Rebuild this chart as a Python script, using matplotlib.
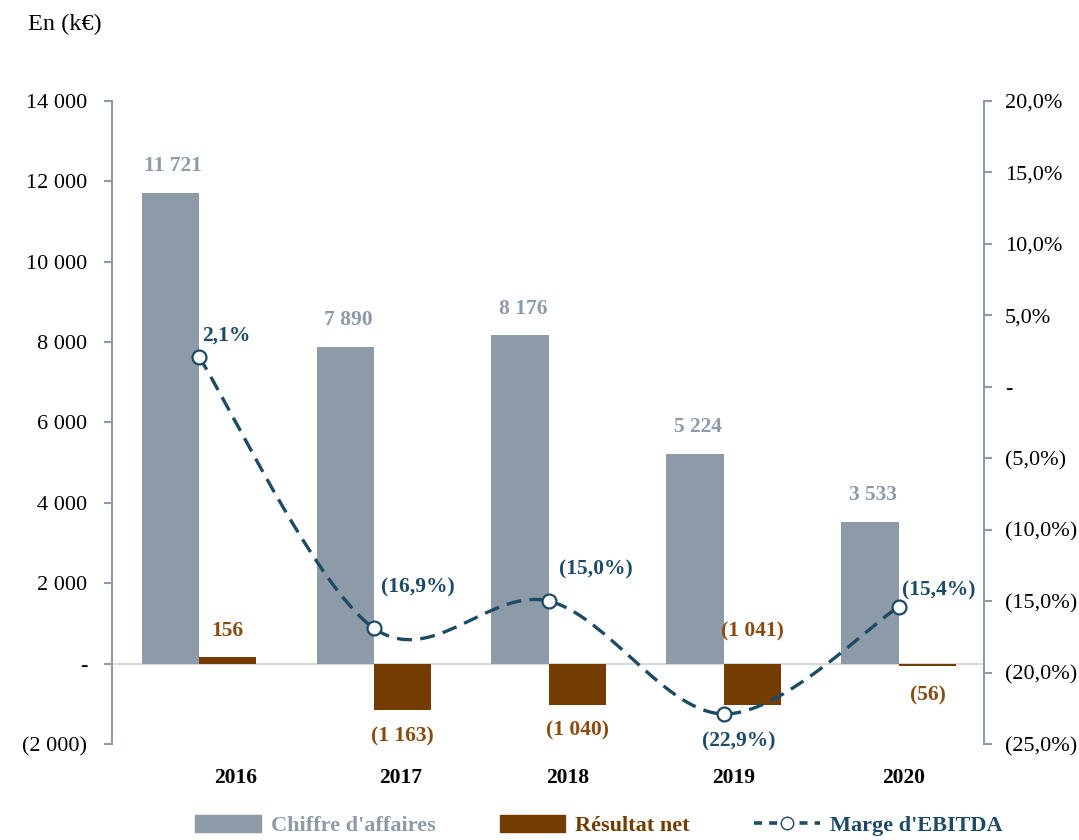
import numpy as np
import matplotlib
matplotlib.use("Agg")
import matplotlib.pyplot as plt
from matplotlib.patches import Patch
from matplotlib.lines import Line2D
from matplotlib.ticker import FuncFormatter

plt.rcParams['font.family'] = ['Liberation Serif', 'DejaVu Serif']

annees = ['2016', '2017', '2018', '2019', '2020']
chiffre_affaires = [11721, 7890, 8176, 5224, 3533]
resultat_net = [156, -1163, -1040, -1041, -56]
marge_ebitda = [2.1, -16.9, -15.0, -22.9, -15.4]

GRIS = '#8d9ba8'
BRUN = '#743c00'
BRUN_TXT = '#8a4b10'
BLEU = '#1d4a66'
AXE = '#8d9ba8'


def fmt_k(v):
    s = f"{abs(v):,.0f}".replace(",", " ")
    if v == 0:
        return "-"
    return f"({s})" if v < 0 else s


def fmt_pct(v):
    s = f"{abs(v):.1f}".replace(".", ",") + "%"
    if round(v, 3) == 0:
        return "-"
    return f"({s})" if v < 0 else s


def catmull_rom(x, y, n=40):
    # smoothed line like the office chart, built from the 5 points
    p = np.column_stack([x, y]).astype(float)
    p = np.vstack([p[0], p, p[-1]])
    out = []
    for i in range(1, len(p) - 2):
        p0, p1, p2, p3 = p[i - 1], p[i], p[i + 1], p[i + 2]
        t = np.linspace(0, 1, n)[:, None]
        seg = 0.5 * ((2 * p1) + (-p0 + p2) * t + (2 * p0 - 5 * p1 + 4 * p2 - p3) * t**2
                     + (-p0 + 3 * p1 - 3 * p2 + p3) * t**3)
        out.append(seg)
    c = np.vstack(out)
    return c[:, 0], c[:, 1]


fig = plt.figure(figsize=(10.79, 8.4), dpi=100)
ax = fig.add_axes([0.1038, 0.1143, 0.808, 0.7655])
ax2 = ax.twinx()

x = np.arange(len(annees))
w = 0.328
ax.bar(x - w / 2, chiffre_affaires, w, color=GRIS, zorder=2)
ax.bar(x + w / 2, resultat_net, w, color=BRUN, zorder=2)
ax.axhline(0, color='#d9d9d9', lw=1.5, zorder=1)

ax.set_xlim(-0.497, 4.486)
ax.set_ylim(-2000, 14000)
ax.set_yticks(np.arange(-2000, 14001, 2000))
ax.yaxis.set_major_formatter(FuncFormatter(lambda v, p: fmt_k(v)))
decal_annee = [0.21, 0.155, 0.11, 0.057, 0.03]
ax.set_xticks(x + np.array(decal_annee))
ax.set_xticklabels(annees, fontsize=15.5, fontweight='bold')
ax.tick_params(axis='x', length=0, pad=17)
ax.tick_params(axis='y', length=6, width=1.5, color=AXE, labelsize=16, pad=12)

for s in ['top', 'bottom', 'right']:
    ax.spines[s].set_visible(False)
for s in ['top', 'bottom', 'left']:
    ax2.spines[s].set_visible(False)
ax.spines['left'].set_color(AXE)
ax.spines['left'].set_linewidth(1.5)
ax2.spines['right'].set_color(AXE)
ax2.spines['right'].set_linewidth(1.5)

ax2.set_ylim(-25, 20)
ax2.set_yticks(np.arange(-25, 20.1, 5))
ax2.yaxis.set_major_formatter(FuncFormatter(lambda v, p: fmt_pct(v)))
ax2.tick_params(axis='y', length=6, width=1.5, color=AXE, labelsize=16, pad=9)

# value labels
for i, v in enumerate(chiffre_affaires):
    ax.annotate(fmt_k(v), (x[i] - w / 2, v), xytext=(2, 19), textcoords='offset points',
                ha='center', va='center', fontsize=15.5, fontweight='bold', color=GRIS)

rn_off = [19, -19, -18, 23, -21]
for i, v in enumerate(resultat_net):
    dy = rn_off[i]
    base = 0 if (v < 0 and dy > 0) else v
    ax.annotate(fmt_k(v), (x[i] + w / 2, base), xytext=(0, dy),
                textcoords='offset points', ha='center', va='center',
                fontsize=15.5, fontweight='bold', color=BRUN_TXT)

cx, cy = catmull_rom(x, marge_ebitda)
ax2.plot(cx, cy, color=BLEU, lw=2.4, ls=(0, (4.5, 2.5)), zorder=3)
ax2.plot(x, marge_ebitda, ls='none', marker='o', ms=10, mfc='white', mec=BLEU, mew=1.6, zorder=4)

mg_off = [(20, 15), (32, 29), (34, 23), (11, -20), (29, 12)]
for i, v in enumerate(marge_ebitda):
    dx, dy = mg_off[i]
    ax2.annotate(fmt_pct(v), (x[i], v), xytext=(dx, dy), textcoords='offset points',
                 ha='center', va='center', fontsize=15.5, fontweight='bold', color=BLEU)

fig.text(0.026, 0.984, "En (k€)", fontsize=17.5, va='top', ha='left')

handles = [Patch(color=GRIS), Patch(color=BRUN),
           Line2D([], [], color=BLEU, lw=2.6, ls=(0, (2.2, 2)), marker='o', ms=9, mfc='white', mec=BLEU)]
leg = fig.legend(handles, ["Chiffre d'affaires", "Résultat net", "Marge d'EBITDA"],
                 loc='center', bbox_to_anchor=(0.555, 0.017), ncol=3, frameon=False,
                 prop={'size': 16, 'weight': 'bold'}, handlelength=2.95, handleheight=0.8,
                 columnspacing=2.9, handletextpad=0.45)
for t, c in zip(leg.get_texts(), [GRIS, BRUN, BLEU]):
    t.set_color(c)

fig.savefig("out.png", dpi=100)
